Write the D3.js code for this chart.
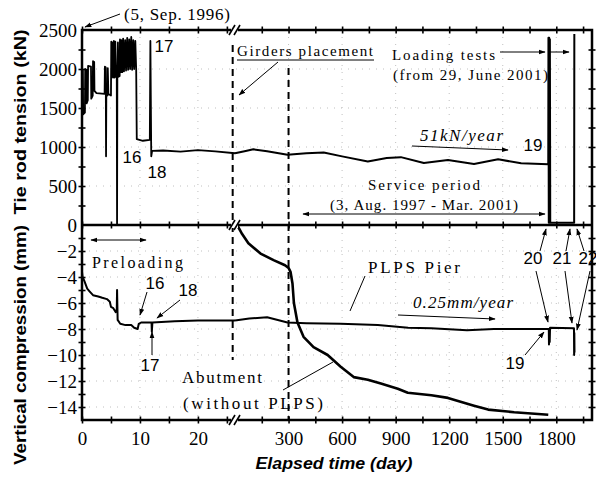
<!DOCTYPE html>
<html>
<head>
<meta charset="utf-8">
<script src="https://cdn.jsdelivr.net/npm/d3@7"></script>
<style>
body { margin: 0; background: #fff; }
</style>
</head>
<body>
<script>
var width = 596, height = 479;
var L = 82, R = 592, T = 30, M = 225, B = 420, XB = 235;

// ---- data ----
var dayTicks1 = [0, 10, 20];
var dayTicks2 = [300, 600, 900, 1200, 1500, 1800];
var tensionTicks = [500, 1000, 1500, 2000, 2500];
var compTicks = [0, -2, -4, -6, -8, -10, -12, -14];

// tie rod tension [day, kN], first 26 days (preloading)
var tension1 = [[0,1150],[0.05,2000],[0.15,1980],[0.2,1420],[0.5,1440],[0.55,2000],[0.75,1990],[0.8,1560],
  [1.0,1600],[1.05,2040],[1.55,2030],[1.6,1620],[1.85,1660],[1.9,2100],[2.1,2090],[2.15,1720],[2.5,1690],
  [3.9,1680],[3.95,2030],[4.1,2020],[4.15,880],[4.2,1700],[4.4,1660],[4.45,2010],[4.55,1680],[5.0,1660],
  [5.05,2350],[5.15,1900],[5.25,2340],[5.35,1890],[5.5,2360],[5.6,1890],[5.75,2350],[5.85,1900],[6.0,1900],
  [6.05,0],[6.1,1900],[6.2,2340],[6.3,1900],[6.5,1910],[6.55,2380],[6.7,1960],[6.8,2370],[6.95,1960],
  [7.1,2390],[7.25,1970],[7.45,2370],[7.6,1980],[7.8,2400],[7.95,1990],[8.15,2380],[8.3,2000],[8.5,2410],
  [8.65,1990],[8.85,2370],[9.0,2000],[9.2,2360],[9.35,1990],[9.45,1100],[10.5,1080],[11.7,1090],
  [11.8,2360],[11.95,880],[12.1,950],[14,955],[17,940],[20,960],[23,945],[26.4,920]];
// tie rod tension [day, kN], service period and loading tests
var tension2 = [[0,920],[60,950],[103,970],[180,945],[294,900],[400,920],[497,930],[600,880],[744,815],
  [850,860],[929,870],[1058,795],[1193,833],[1339,782],[1474,842],[1603,791],[1755,779],
  [1756,2400],[1758,30],[1760,2400],[1762,30],[1764,2380],[1766,30],[1900,30],[1901,2450]];

// PLPS pier vertical compression [day, mm]
var pier1 = [[0,-3.6],[0.1,-4.0],[0.4,-4.3],[0.9,-4.9],[1.3,-5.1],[1.9,-5.4],[2.8,-5.5],[3.5,-5.6],[4.3,-5.7],
  [4.8,-5.9],[5.0,-6.3],[5.4,-6.4],[5.8,-6.7],[6.0,-6.5],[6.05,-5.0],[6.15,-7.3],[6.6,-7.6],[7.5,-7.7],
  [8.5,-7.7],[9.0,-7.9],[9.6,-8.0],[9.8,-7.6],[10.2,-7.5],[12.0,-7.5],[12.05,-8.2],[12.15,-7.5],[16,-7.4],
  [20,-7.35],[26.4,-7.35]];
var pier2 = [[0,-7.35],[80,-7.2],[180,-7.1],[294,-7.5],[400,-7.55],[592,-7.6],[800,-7.7],[970,-7.9],
  [1100,-7.95],[1300,-8.1],[1450,-8.0],[1600,-8.0],[1758,-8.0],[1759,-9.2],[1761,-8.0],[1763,-9.0],
  [1765,-7.9],[1899,-7.95],[1900,-10.0],[1901,-8.3],[1902,-9.8]];
// abutment (without PLPS) [day, mm]
var abutment = [[12,0],[40,-0.7],[75,-1.4],[143,-2.2],[216,-2.7],[280,-3.1],[300,-3.3],[311,-3.6],[322,-4.5],
  [330,-6.0],[350,-7.5],[384,-8.6],[440,-9.4],[519,-10.0],[592,-10.9],[665,-11.7],[744,-11.9],[817,-12.2],
  [912,-12.6],[968,-12.9],[1100,-13.1],[1193,-13.3],[1339,-13.9],[1418,-14.2],[1564,-14.4],[1755,-14.6]];

// ---- scales ----
var x1 = d3.scaleLinear().domain([0, 26.4]).range([L, XB]);
var x2 = d3.scaleLinear().domain([0, 2000]).range([XB, R]);
var yT = d3.scaleLinear().domain([0, 2500]).range([M, T]);
var yB = d3.scaleLinear().domain([-15, 0]).range([B, M]);

var svg = d3.select("body").append("svg")
  .attr("width", width).attr("height", height)
  .style("font-family", "Liberation Serif");

var defs = svg.append("defs");
defs.append("marker").attr("id", "ah").attr("viewBox", "0 0 10 10")
  .attr("refX", 9).attr("refY", 5).attr("markerWidth", 7).attr("markerHeight", 7)
  .attr("orient", "auto-start-reverse")
  .append("path").attr("d", "M0,1.5L10,5L0,8.5z").attr("fill", "#000");

// dotted grid
var grid = svg.append("g").attr("stroke", "#b0b0b0").attr("stroke-width", 0.8).attr("stroke-dasharray", "1,6");
dayTicks1.slice(1).forEach(d => grid.append("line").attr("x1", x1(d)).attr("x2", x1(d)).attr("y1", T).attr("y2", B));
dayTicks2.forEach(d => grid.append("line").attr("x1", x2(d)).attr("x2", x2(d)).attr("y1", T).attr("y2", B));
tensionTicks.slice(0, -1).forEach(v => grid.append("line").attr("x1", L).attr("x2", R).attr("y1", yT(v)).attr("y2", yT(v)));
compTicks.slice(1).forEach(v => grid.append("line").attr("x1", L).attr("x2", R).attr("y1", yB(v)).attr("y2", yB(v)));

// tick marks crossing each frame line
function crossTicks(axisFn, scale, values, tx, ty, size) {
  [size, -size].forEach(function (s) {
    var g = svg.append("g").attr("transform", "translate(" + tx + "," + ty + ")")
      .call(axisFn(scale).tickValues(values).tickSize(s).tickFormat(""));
    g.select(".domain").remove();
    g.selectAll("line").attr("stroke", "#000").attr("stroke-width", 1.6);
  });
}
var minor1 = d3.range(0, 26, 5);
var minor2 = d3.range(150, 2000, 150);
[T, M, B].forEach(function (y) {
  crossTicks(d3.axisBottom, x1, minor1, 0, y, 3.5);
  crossTicks(d3.axisBottom, x2, minor2, 0, y, 3.5);
});
[L, R].forEach(function (x) {
  crossTicks(d3.axisLeft, yT, d3.range(250, 2500, 250), x, 0, 3.5);
  crossTicks(d3.axisLeft, yB, d3.range(-14, 0, 1), x, 0, 3.5);
});

// tick labels
function labels(axisFn, scale, values, tx, ty, fmt) {
  var g = svg.append("g").attr("transform", "translate(" + tx + "," + ty + ")")
    .call(axisFn(scale).tickValues(values).tickSize(0).tickPadding(0).tickFormat(fmt));
  g.select(".domain").remove();
  g.selectAll("text").attr("font-family", "Liberation Serif").attr("font-size", 19).attr("fill", "#000");
  return g;
}
labels(d3.axisLeft, yT, tensionTicks, 77, 0, d3.format("d")).selectAll("text").attr("dy", "0.36em");
labels(d3.axisLeft, yB, compTicks, 77, 0, d3.format("d")).selectAll("text").attr("dy", "0.36em");
labels(d3.axisBottom, x1, dayTicks1, 0, 431, d3.format("d"));
labels(d3.axisBottom, x2, dayTicks2, 0, 431, d3.format("d"));

// data lines
var lineT1 = d3.line().x(d => x1(d[0])).y(d => yT(d[1]));
var lineT2 = d3.line().x(d => x2(d[0])).y(d => yT(d[1]));
var lineB1 = d3.line().x(d => x1(d[0])).y(d => yB(d[1]));
var lineB2 = d3.line().x(d => x2(d[0])).y(d => yB(d[1]));
function drawLine(data, gen, w) {
  svg.append("path").datum(data).attr("d", gen).attr("fill", "none")
    .attr("stroke", "#000").attr("stroke-width", w).attr("stroke-linejoin", "round");
}
drawLine(tension1, lineT1, 1.8);
drawLine(tension2, lineT2, 2);
drawLine(pier1, lineB1, 2);
drawLine(pier2, lineB2, 2);
drawLine(abutment, lineB2, 2.6);

// dashed event lines
svg.append("line").attr("x1", x1(26)).attr("x2", x1(26)).attr("y1", 45).attr("y2", 360)
  .attr("stroke", "#000").attr("stroke-width", 2).attr("stroke-dasharray", "7,5");
svg.append("line").attr("x1", x2(300)).attr("x2", x2(300)).attr("y1", 68).attr("y2", B)
  .attr("stroke", "#000").attr("stroke-width", 2).attr("stroke-dasharray", "7,5");

// frame
svg.append("rect").attr("x", L).attr("y", T).attr("width", R - L).attr("height", B - T)
  .attr("fill", "none").attr("stroke", "#000").attr("stroke-width", 2.5);
svg.append("line").attr("x1", L).attr("x2", R).attr("y1", M).attr("y2", M)
  .attr("stroke", "#000").attr("stroke-width", 2.5);

// axis break marks
[T, M, B].forEach(function (y) {
  svg.append("rect").attr("x", XB - 4).attr("y", y - 3).attr("width", 7).attr("height", 6).attr("fill", "#fff");
  [-3, 2].forEach(dx => svg.append("line")
    .attr("x1", XB + dx - 3).attr("y1", y + 5).attr("x2", XB + dx + 3).attr("y2", y - 5)
    .attr("stroke", "#000").attr("stroke-width", 1.6));
});

// axis titles
svg.append("text").attr("transform", "translate(26,122)rotate(-90)").attr("text-anchor", "middle")
  .attr("font-family", "Liberation Sans").attr("font-weight", "bold").attr("font-size", 16)
  .attr("textLength", 185).attr("lengthAdjust", "spacingAndGlyphs").text("Tie rod tension (kN)");
svg.append("text").attr("transform", "translate(26,345)rotate(-90)").attr("text-anchor", "middle")
  .attr("font-family", "Liberation Sans").attr("font-weight", "bold").attr("font-size", 16)
  .attr("textLength", 240).attr("lengthAdjust", "spacingAndGlyphs").text("Vertical compression (mm)");
svg.append("text").attr("x", 334).attr("y", 469).attr("text-anchor", "middle")
  .attr("font-family", "Liberation Sans").attr("font-weight", "bold").attr("font-style", "italic")
  .attr("font-size", 16).attr("textLength", 157).attr("lengthAdjust", "spacingAndGlyphs")
  .text("Elapsed time (day)");

// annotations [text, x, y, length, family, size, style]
var notes = [
  ["(5, Sep. 1996)", 124, 20, 106, "Liberation Serif", 17, "normal"],
  ["Girders placement", 237, 56, 136, "Liberation Serif", 15, "normal"],
  ["Loading tests", 392, 60, 103, "Liberation Serif", 15, "normal"],
  ["(from 29, June 2001)", 393, 80, 155, "Liberation Serif", 15, "normal"],
  ["51kN/year", 420, 141, 83, "Liberation Serif", 17, "italic"],
  ["Service period", 368, 190, 112, "Liberation Serif", 15, "normal"],
  ["(3, Aug. 1997 - Mar. 2001)", 330, 210, 188, "Liberation Serif", 15, "normal"],
  ["Preloading", 92, 268, 91, "Liberation Serif", 16, "normal"],
  ["PLPS Pier", 368, 273, 92, "Liberation Serif", 17, "normal"],
  ["0.25mm/year", 413, 308, 100, "Liberation Serif", 17, "italic"],
  ["Abutment", 182, 383, 80, "Liberation Serif", 17, "normal"],
  ["(without PLPS)", 183, 409, 140, "Liberation Serif", 17, "normal"]
];
notes.forEach(function (n) {
  svg.append("text").attr("x", n[1]).attr("y", n[2]).attr("font-family", n[4]).attr("font-size", n[5])
    .attr("font-style", n[6]).attr("textLength", n[3]).attr("lengthAdjust", "spacing").text(n[0]);
});
svg.append("line").attr("x1", 237).attr("x2", 374).attr("y1", 60).attr("y2", 60).attr("stroke", "#000").attr("stroke-width", 1);

var nums = [["17", 164, 52], ["16", 132, 163], ["18", 157, 178], ["19", 533, 151],
  ["16", 155, 289], ["18", 188, 296], ["17", 150, 371], ["19", 515, 369],
  ["20", 533, 264], ["21", 562, 264], ["22", 588, 264]];
nums.forEach(function (n) {
  svg.append("text").attr("x", n[1]).attr("y", n[2]).attr("text-anchor", "middle")
    .attr("font-family", "Liberation Sans").attr("font-size", 17).text(n[0]);
});

// arrows [x1, y1, x2, y2, heads] heads: 0 none, 1 end, 2 both
var arrows = [
  [120, 14, 85, 27, 1], [278, 62, 239, 95, 1], [500, 52, 545, 52, 1], [550, 52, 569, 52, 1],
  [412, 146, 508, 150, 1], [303, 214, 545, 214, 2], [91, 240, 146, 240, 2],
  [147, 292, 140, 315, 1], [180, 300, 157, 318, 1], [152, 355, 152, 332, 1],
  [365, 276, 350, 311, 0], [398, 315, 495, 319, 1], [283, 390, 333, 362, 0],
  [525, 355, 544, 332, 1], [540, 251, 546, 229, 1], [536, 271, 548, 322, 1],
  [566, 251, 570, 229, 1], [565, 271, 572, 323, 1], [584, 251, 577, 229, 1], [590, 271, 577, 330, 1]
];
arrows.forEach(function (a) {
  var ln = svg.append("line").attr("x1", a[0]).attr("y1", a[1]).attr("x2", a[2]).attr("y2", a[3])
    .attr("stroke", "#000").attr("stroke-width", 1);
  if (a[4] > 0) ln.attr("marker-end", "url(#ah)");
  if (a[4] > 1) ln.attr("marker-start", "url(#ah)");
});
</script>
</body>
</html>
